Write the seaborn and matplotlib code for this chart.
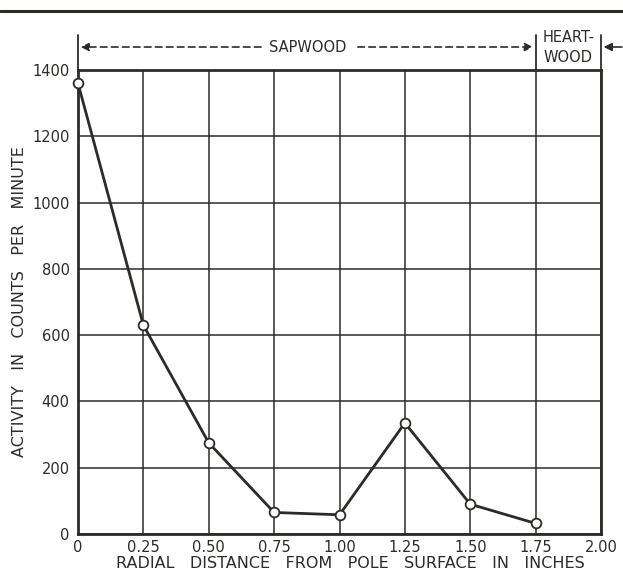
import matplotlib
matplotlib.use("Agg")
import matplotlib.pyplot as plt
import seaborn as sns
import pandas as pd
from matplotlib.lines import Line2D

# Data
distance = [0.0, 0.25, 0.50, 0.75, 1.00, 1.25, 1.50, 1.75]
activity = [1360, 630, 275, 65, 58, 335, 90, 32]
x_ticks = [0, 0.25, 0.50, 0.75, 1.00, 1.25, 1.50, 1.75, 2.00]
x_tick_labels = ["0", "0.25", "0.50", "0.75", "1.00", "1.25", "1.50", "1.75", "2.00"]
y_ticks = [0, 200, 400, 600, 800, 1000, 1200, 1400]

sns.set_style("white")
plt.rcParams['font.family'] = ['DejaVu Sans']
ink = "#2b2b28"

df = pd.DataFrame({"distance": distance, "activity": activity})

fig = plt.figure(figsize=(6.23, 5.71), dpi=100)
ax = fig.add_axes([78/623, 1-534/571, (601-78)/623, (534-70)/571])

ax.set_xlim(0, 2.0)
ax.set_ylim(0, 1400)
ax.set_xticks(x_ticks)
ax.set_xticklabels(x_tick_labels)
ax.set_yticks(y_ticks)
ax.grid(True, color=ink, linewidth=1.1)
ax.set_axisbelow(True)
for s in ax.spines.values():
    s.set_color(ink)
    s.set_linewidth(2.0)
ax.tick_params(length=0, labelsize=10.5, colors=ink)
ax.tick_params(axis="x", pad=4.5)
ax.tick_params(axis="y", pad=6)

sns.lineplot(data=df, x="distance", y="activity", ax=ax, color=ink,
             linewidth=2.0, marker="o", markersize=7, markerfacecolor="white",
             markeredgecolor=ink, markeredgewidth=1.3, clip_on=False, zorder=5)

ax.set_xlabel("RADIAL   DISTANCE   FROM   POLE   SURFACE   IN   INCHES",
              fontsize=11.5, color=ink)
ax.xaxis.set_label_coords(0.52, -0.047)
ax.set_ylabel("ACTIVITY   IN   COUNTS   PER   MINUTE", fontsize=11.5, color=ink)
ax.yaxis.set_label_coords(-0.098, 0.5)

# Top rule
fig.add_artist(Line2D([0, 1], [1-11/571, 1-11/571], transform=fig.transFigure,
                      color=ink, linewidth=2.2))

# Region annotation above axes
yarr = 1.0 + 23/464  # axes fraction for arrow line
trans = ax.get_xaxis_transform()
for xv in [0.0, 1.75, 2.0]:
    ax.plot([xv, xv], [1.0, 1.0 + 35/464], transform=trans, color=ink,
            linewidth=1.3, clip_on=False)
dash = (0, (4, 2.6))
ax.annotate("", xy=(0.01, yarr), xytext=(0.70, yarr), xycoords=trans, textcoords=trans,
            arrowprops=dict(arrowstyle="-|>", linestyle=dash, color=ink,
                            lw=1.2, shrinkA=0, shrinkB=0, mutation_scale=12))
ax.annotate("", xy=(1.74, yarr), xytext=(1.07, yarr), xycoords=trans, textcoords=trans,
            arrowprops=dict(arrowstyle="-|>", linestyle=dash, color=ink,
                            lw=1.2, shrinkA=0, shrinkB=0, mutation_scale=12))
ax.text(0.88, yarr, "SAPWOOD", transform=trans, ha="center", va="center",
        fontsize=10.5, color=ink)
ax.text(1.875, 1.0 + 33/464, "HEART-", transform=trans, ha="center", va="center",
        fontsize=10.5, color=ink)
ax.text(1.875, 1.0 + 13/464, "WOOD", transform=trans, ha="center", va="center",
        fontsize=10.5, color=ink)
ax.annotate("", xy=(2.01, yarr), xytext=(2.08, yarr), xycoords=trans, textcoords=trans,
            arrowprops=dict(arrowstyle="-|>", color=ink, lw=1.2, shrinkA=0, shrinkB=0,
                            mutation_scale=12))

fig.savefig("out.png", dpi=100)
